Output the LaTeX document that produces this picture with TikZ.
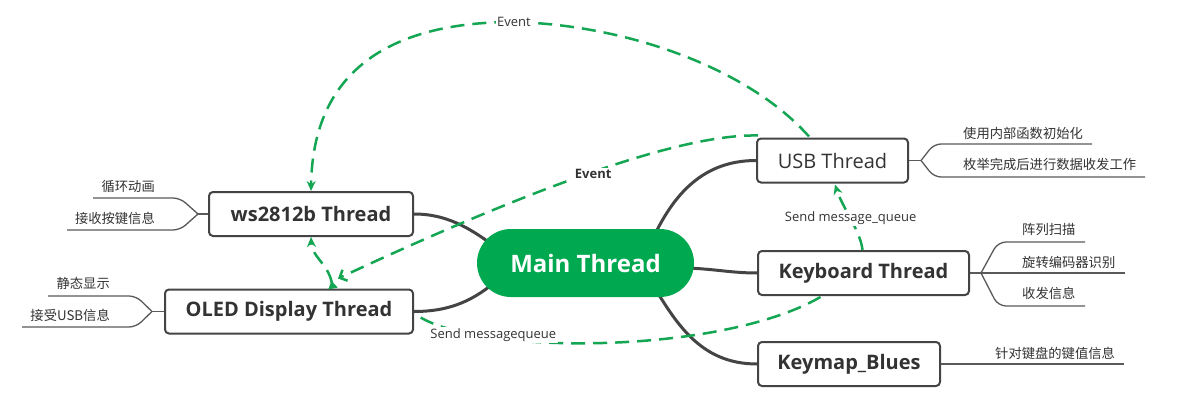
\documentclass[tikz,border=0pt]{standalone}
\usepackage{fontspec}
\setmainfont{Open Sans}
\newfontfamily\cjk{Noto Sans CJK SC}
\usetikzlibrary{arrows.meta,calc,backgrounds}
\definecolor{grn}{HTML}{00A94F}
\definecolor{dline}{HTML}{444444}
\definecolor{sline}{HTML}{5A5A5A}
\definecolor{txt}{HTML}{333333}
\definecolor{dashc}{HTML}{14A653}
\begin{document}
\begin{tikzpicture}[x=1pt,y=-1pt,
 topic/.style={draw=dline, line width=2pt, rounded corners=4pt, fill=white, minimum height=44pt, inner sep=0pt, text=txt, font=\fontsize{20}{24}\selectfont\bfseries},
 branch/.style={draw=dline, line width=3pt},
 sub/.style={draw=sline, line width=1.3pt},
 leaf/.style={font=\cjk\fontsize{13.3}{16}\selectfont, text=txt, inner sep=0pt},
 rel/.style={draw=dashc, line width=2.5pt, dash pattern=on 14pt off 8pt},
 lbl/.style={fill=white, inner sep=1.5pt, text=txt, font=\fontsize{13}{15}\selectfont}
]
\useasboundingbox (0,0) rectangle (1200,412);

% central topic
\node[fill=grn, rounded corners=34pt, minimum width=217pt, minimum height=68pt, inner sep=0pt, text=white, font=\fontsize{24}{28}\selectfont\bfseries] (main) at (585.5,263) {Main Thread};

% topics
\node[topic, minimum width=204pt] (ws) at (311,214) {ws2812b Thread};
\node[topic, minimum width=248pt] (oled) at (289,311.5) {OLED Display Thread};
\node[topic, minimum width=151pt, font=\fontsize{20}{24}\selectfont] (usb) at (832.5,160.5) {USB Thread};
\node[topic, minimum width=211pt] (kb) at (863.5,273) {Keyboard Thread};
\node[topic, minimum width=182pt] (km) at (849,364) {Keymap\_Blues};

% branches
\begin{scope}[on background layer]
\fill[white] (0,0) rectangle (1200,412);
\draw[branch] (ws.east) .. controls +(37,0) and ($(main.west)+(-2,-31)$) .. ($(main.west)+(23,-13)$);
\draw[branch] (oled.east) .. controls +(37,0) and ($(main.west)+(-2,37)$) .. ($(main.west)+(23,15)$);
\draw[branch] (usb.west) .. controls +(-57,0) and ($(main.north)+(84.5,-29)$) .. ($(main.north)+(64.5,16)$);
\draw[branch] (kb.west) .. controls +(-28,0) and ($(main.east)+(16,5)$) .. ($(main.east)+(-14,5)$);
\draw[branch] (km.west) .. controls +(-58,0) and ($(main.south)+(89.5,24)$) .. ($(main.south)+(64.5,-17)$);
\end{scope}

% leaves
\node[leaf, anchor=base east] (l1) at (155,191) {循环动画};
\node[leaf, anchor=base east] (l2) at (155,223) {接收按键信息};
\node[leaf, anchor=base east] (l3) at (110,288) {静态显示};
\node[leaf, anchor=base east] (l4) at (110,320) {接受USB信息};
\node[leaf, anchor=base west] (r1) at (963,138) {使用内部函数初始化};
\node[leaf, anchor=base west] (r2) at (963,169) {枚举完成后进行数据收发工作};
\node[leaf, anchor=base west] (r3) at (1022,234) {阵列扫描};
\node[leaf, anchor=base west] (r4) at (1022,267) {旋转编码器识别};
\node[leaf, anchor=base west] (r5) at (1022,298) {收发信息};
\node[leaf, anchor=base west] (r6) at (995,358) {针对键盘的键值信息};

% sub lines
\draw[sub] (ws.west) -- ++(-10,0) coordinate (wsj);
\draw[sub, rounded corners=7pt] (wsj) -- ++(-18,-16) -- (93,198);
\draw[sub, rounded corners=7pt] (wsj) -- ++(-18,16) -- (67,230);
\draw[sub] (oled.west) -- ++(-12,0) coordinate (olj);
\draw[sub, rounded corners=7pt] (olj) -- ++(-16,-15.5) -- (48,296);
\draw[sub, rounded corners=7pt] (olj) -- ++(-16,15.5) -- (22,327);
\draw[sub] (usb.east) -- ++(12,0) coordinate (usj);
\draw[sub, rounded corners=7pt] (usj) -- ++(13,-16.5) -- (1092,144);
\draw[sub, rounded corners=7pt] (usj) -- ++(13,16.5) -- (1145,177);
\draw[sub] (kb.east) -- ++(11,0) coordinate (kbj);
\draw[sub, rounded corners=8pt] (kbj) -- ++(17,-31) -- (1085,242);
\draw[sub] (kbj) -- (1125,273);
\draw[sub, rounded corners=8pt] (kbj) -- ++(17,33) -- (1085,306);
\draw[sub] (km.east) -- (1124,364);

% relationships
\draw[rel, -{Stealth[length=10pt,width=9pt]}] ($(usb.north west)+(53,-1)$) .. controls (750,70) and (630,25) .. (514,22) node[lbl]{Event} .. controls (405,22) and (313,60) .. (ws.north);
\draw[rel, -{Straight Barb[length=6pt,width=12pt]}] ($(usb.north west)+(2,-2)$) .. controls (690,134) and (560,175) .. ($(oled.north)+(49,-10)$) node[lbl, pos=0.53, yshift=-2pt, font=\fontsize{13}{15}\selectfont\bfseries]{Event};
\draw[rel, {Triangle[reversed,length=8pt,width=9pt]}-{Stealth[length=10pt,width=9pt]}] ($(oled.north)+(44,0)$) .. controls +(-5,-25) and +(1,20) .. (ws.south);
\draw[rel, -{Stealth[length=10pt,width=9pt]}] ($(kb.north)+(-1,0)$) .. controls +(-2,-19) and +(7,22) .. ($(usb.south)+(2.5,1)$) node[lbl,pos=0.5]{Send message\_queue};
\draw[rel] ($(kb.south)+(-43,1)$) .. controls (720,355) and (480,355) .. ($(oled.east)+(5,5)$) node[lbl,pos=0.75,yshift=3pt]{Send messagequeue};
\end{tikzpicture}
\end{document}
